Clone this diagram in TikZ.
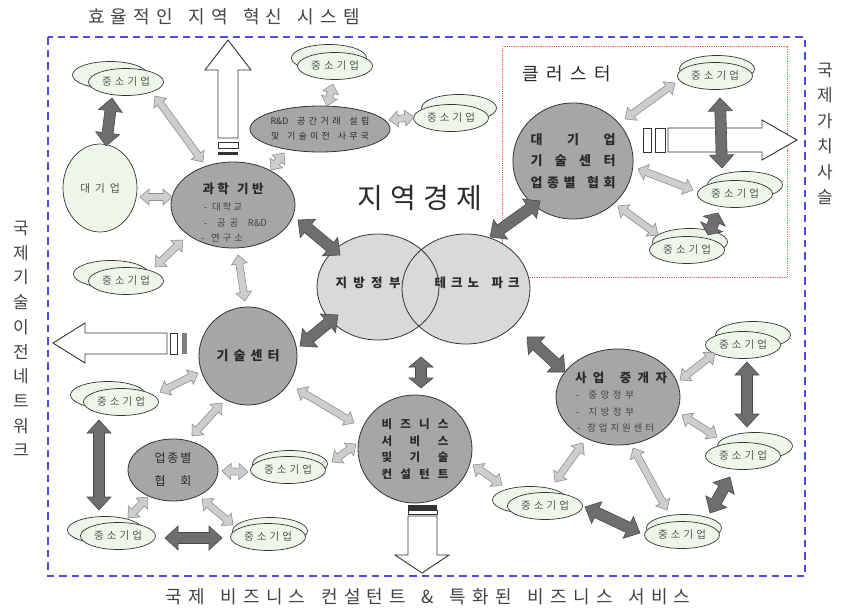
\documentclass[tikz,border=0pt]{standalone}
\usepackage{fontspec}
\setmainfont{Noto Sans CJK KR}
\usetikzlibrary{shapes.geometric,calc}

\definecolor{blueline}{HTML}{4B4BE6}
\definecolor{redline}{HTML}{F06060}
\definecolor{dkfill}{HTML}{A6A6A6}
\definecolor{vfill}{HTML}{D9D9D9}
\definecolor{smefill}{HTML}{EEF6EA}
\definecolor{darr}{HTML}{6E6E6E}
\definecolor{darredge}{HTML}{4A4A4A}
\definecolor{larr}{HTML}{CDCDCD}
\definecolor{larredge}{HTML}{8E8E8E}
\definecolor{txt}{HTML}{2A2A2A}
\definecolor{subtxt}{HTML}{444444}
\definecolor{smetxt}{HTML}{555555}
\definecolor{nodeedge}{HTML}{333333}
\definecolor{hedge}{HTML}{333333}

\makeatletter
\newcommand\spread[2]{\makebox[#1][s]{\spread@a#2\@nil}}
\def\spread@a#1{\ifx\@nil#1\unskip\else\ifx/#1\hskip0pt plus 1.5fil\relax\else#1\hfil\fi\expandafter\spread@a\fi}
\makeatother
\newcommand\RnD{R\&D}

\tikzset{
  asw/.store in=\asw, ahw/.store in=\ahw, ahl/.store in=\ahl,
  asw=3.5pt, ahw=8pt, ahl=9pt,
  dbl/.style={to path={
    (\tikztostart) coordinate (dA) (\tikztotarget) coordinate (dB)
    (dA) -- ($(dA)!\ahl!(dB)!\ahw!90:(dB)$) -- ($(dA)!\ahl!(dB)!\asw!90:(dB)$)
    -- ($(dB)!\ahl!(dA)!\asw!-90:(dA)$) -- ($(dB)!\ahl!(dA)!\ahw!-90:(dA)$)
    -- (dB) -- ($(dB)!\ahl!(dA)!\ahw!90:(dA)$) -- ($(dB)!\ahl!(dA)!\asw!90:(dA)$)
    -- ($(dA)!\ahl!(dB)!\asw!-90:(dB)$) -- ($(dA)!\ahl!(dB)!\ahw!-90:(dB)$) -- cycle}},
}

\newcommand\smepair[3]{%
  \node[smeb] (#1b) at ($(#2)+(#3)$) {};
  \node[sme] (#1) at (#2) {\spread{48pt}{중소기업}};}

\begin{document}
\begin{tikzpicture}[x=1pt,y=-1pt,
  every node/.style={inner sep=0pt, outer sep=0pt, text=txt},
  dn/.style={ellipse, draw=nodeedge, fill=dkfill, line width=0.8pt},
  vn/.style={ellipse, fill=vfill},
  sme/.style={ellipse, draw=nodeedge, fill=smefill, line width=0.7pt, minimum width=75pt, minimum height=27pt, font=\fontsize{10.5}{11}\selectfont, text=smetxt},
  smeb/.style={ellipse, draw=nodeedge, fill=smefill, line width=0.7pt, minimum width=75pt, minimum height=27pt},
  hollow/.style={draw=hedge, fill=white, line width=0.9pt, line join=miter},
  dk/.style={dbl, fill=darr, draw=darredge, line width=0.6pt, asw=5.5pt, ahw=12pt, ahl=13pt},
  lt/.style={dbl, fill=larr, draw=larredge, line width=0.6pt, asw=3.5pt, ahw=8pt, ahl=9pt},
  head/.style={font=\bfseries\fontsize{12.5}{13}\selectfont},
  item/.style={anchor=west, font=\fontsize{9.5}{10}\selectfont, text=subtxt},
]
\fill[white] (0,0) rectangle (841,613);
\useasboundingbox (0,0) rectangle (841,613);

% frames
\draw[redline, line width=0.8pt, densely dotted] (502,46) rectangle (787,277);
\draw[blueline, line width=2.2pt, dash pattern=on 7.5pt off 5pt] (48,37) rectangle (805,576);

% outer texts
\node[font=\fontsize{18}{18}\selectfont, text=subtxt] (title) at (224,17) {\spread{272pt}{효율적인/지역/혁신/시스템}};
\node[font=\fontsize{18}{18}\selectfont, text=subtxt] (bottom) at (428,597) {\spread{525pt}{국제/비즈니스/컨설턴트/\&/특화된/비즈니스/서비스}};
\node[align=center, font=\fontsize{17}{25.4}\selectfont, text=subtxt] (rtext) at (825,134) {국\\제\\가\\치\\사\\슬};
\node[align=center, font=\fontsize{17}{24.7}\selectfont, text=subtxt] (ltext) at (21,339) {국\\제\\기\\술\\이\\전\\네\\트\\워\\크};
\node[font=\fontsize{28}{28}\selectfont] (region) at (420,198) {\spread{125pt}{지역경제}};
\node[font=\fontsize{18}{18}\selectfont] (cluster) at (567,74) {\spread{89pt}{클러스터}};

% hollow arrows
\draw[hollow] (218,138) -- (218,70) -- (205,70) -- (228,40) -- (251,70) -- (238,70) -- (238,138) -- cycle;
\draw[hollow] (218,142) rectangle (238,148);
\fill[hedge] (218,152) rectangle (238,155);

\draw[hollow] (167,333) -- (85,333) -- (85,323) -- (53,343) -- (85,363) -- (85,354) -- (167,354) -- cycle;
\draw[hollow] (170,333) rectangle (177,354);
\fill[gray] (182,333) rectangle (187,354);

\draw[hollow] (668,128) -- (762,128) -- (762,120) -- (797,140) -- (762,160) -- (762,152) -- (668,152) -- cycle;
\draw[hollow] (643,128) rectangle (651,152);
\draw[hollow] (655,128) rectangle (665,152);

\fill[hedge] (408,505) rectangle (437,510);
\draw[hollow] (408,510) rectangle (437,514);
\draw[hollow] (408,516) -- (408,555) -- (395,555) -- (422,573) -- (449,555) -- (437,555) -- (437,516) -- cycle;

% Venn
\node[vn, minimum width=122pt, minimum height=106pt] (gov) at (378,287) {};
\node[vn, minimum width=128pt, minimum height=110pt] (park) at (466,289) {};
\draw[nodeedge, line width=0.8pt] (gov.center) ellipse [x radius=61, y radius=53];
\draw[nodeedge, line width=0.8pt] (park.center) ellipse [x radius=64, y radius=55];
\node[head] (govt) at (368,283) {\spread{65pt}{지방정부}};
\node[head] (parkt) at (477,283) {\spread{85pt}{테크노/파크}};

% main nodes
\node[dn, minimum width=124pt, minimum height=86pt] (sci) at (233,205) {};
\node[head] (scih) at (233,189) {\spread{61pt}{과학/기반}};
\node[item] (sci1) at (204,207) {\spread{38pt}{-/대학교}};
\node[item] (sci2) at (204,223) {\spread{63pt}{-/공공/\RnD}};
\node[item] (sci3) at (201,238) {\spread{42pt}{-/연구소}};

\node[ellipse, draw=nodeedge, fill=smefill, line width=0.7pt, minimum width=74pt, minimum height=88pt, font=\fontsize{11}{12}\selectfont, text=smetxt] (big) at (100,188) {\spread{40pt}{대기업}};

\node[dn, minimum size=98pt, font=\bfseries\fontsize{13}{14}\selectfont] (tech) at (248,356) {\spread{63pt}{기술센터}};

\node[dn, minimum width=90pt, minimum height=62pt, align=center, font=\fontsize{12}{23}\selectfont] (assoc) at (173,470) {\spread{37pt}{업종별}\\\spread{37pt}{협/회}};

\node[dn, minimum width=114pt, minimum height=108pt, align=center, font=\bfseries\fontsize{11.5}{16.7}\selectfont] (biz) at (415,449) {\spread{67pt}{비즈니스}\\\spread{67pt}{서비스}\\\spread{67pt}{및기술}\\\spread{67pt}{컨설턴트}};

\node[dn, minimum width=124pt, minimum height=96pt] (broker) at (618,397) {};
\node[head] (brokerh) at (621,378) {\spread{92pt}{사업/중개자}};
\node[item] (broker1) at (576,395) {\spread{58pt}{-/중앙정부}};
\node[item] (broker2) at (576,412) {\spread{58pt}{-/지방정부}};
\node[item] (broker3) at (577,428) {\spread{77pt}{-/창업지원센터}};

\node[dn, minimum size=116pt, align=center, font=\bfseries\fontsize{13}{21.5}\selectfont] (clus) at (573,161) {\spread{85pt}{대기업}\\\spread{85pt}{기술센터}\\\spread{85pt}{업종별/협회}};

\node[dn, minimum width=134pt, minimum height=46pt, align=center, font=\fontsize{9}{15}\selectfont] (rd) at (320,129) {\spread{99pt}{\RnD/공간거래/설립}\\\spread{98pt}{및/기술이전/사무국}};

% SMEs
\smepair{s1}{126,82}{-16,-7}
\smepair{s2}{335,66}{-6,-8}
\smepair{s3}{451,118}{8,-10}
\smepair{s4}{715,76}{2,-7}
\smepair{s5}{735,194}{10,-9}
\smepair{s6}{687,250}{3,-8}
\smepair{s7}{126,281}{-15,-7}
\smepair{s8}{121,402}{-13,-7}
\smepair{s9}{118,536}{-13,-6}
\smepair{s10}{288,470}{2,-6}
\smepair{s11}{268,537}{2,-6}
\smepair{s12}{545,506}{-15,-6}
\smepair{s13}{682,535}{2,-7}
\smepair{s14}{743,345}{10,-10}
\smepair{s15}{743,456}{12,-10}

% dark connectors
\draw[dk] ($(s1)+(-14,16)$) to ($(big)+(6,-42)$);
\draw[dk] ($(sci)+(65,15)$) to ($(gov)+(-38,-32)$);
\draw[dk] ($(tech)+(52,-10)$) to ($(gov)+(-40,28)$);
\draw[dk] ($(park)+(24,-52)$) to ($(clus)+(-33,40)$);
\draw[dk, ahl=10pt] ($(park)+(-45,68)$) to ($(biz)+(6,-61)$);
\draw[dk] ($(park)+(61,48)$) to ($(broker)+(-53,-25)$);
\draw[dk] ($(s4)+(5,22)$) to ($(s5)+(-13,-26)$);
\draw[dk, ahl=9pt] ($(s5)+(-17,19)$) to ($(s6)+(21,-15)$);
\draw[dk] ($(s14)+(4,17)$) to ($(s15)+(4,-29)$);
\draw[dk] ($(s15)+(-13,21)$) to ($(s13)+(28,-22)$);
\draw[dk] ($(s12)+(40,1)$) to ($(s13)+(-42,-2)$);
\draw[dk] ($(s8)+(-22,18)$) to ($(s9)+(-19,-26)$);
\draw[dk] ($(s9)+(47,2)$) to ($(s11)+(-46,1)$);

% light connectors
\draw[lt] ($(s1)+(29,14)$) to ($(sci)+(-30,-43)$);
\draw[lt] ($(big)+(40,9)$) to ($(sci)+(-61,-8)$);
\draw[lt] ($(s7)+(29,-14)$) to ($(sci)+(-50,35)$);
\draw[lt] ($(sci)+(5,50)$) to ($(tech)+(-3,-55)$);
\draw[lt] ($(rd)+(-36,24)$) to ($(sci)+(38,-35)$);
\draw[lt] ($(s2)+(-2,18)$) to ($(rd)+(7,-23)$);
\draw[lt] ($(rd)+(69,-9)$) to ($(s3)+(-37,-1)$);
\draw[lt] ($(clus)+(52,-42)$) to ($(s4)+(-40,7)$);
\draw[lt] ($(clus)+(65,8)$) to ($(s5)+(-42,-4)$);
\draw[lt] ($(clus)+(45,45)$) to ($(s6)+(-29,-15)$);
\draw[lt] ($(s8)+(39,-10)$) to ($(tech)+(-50,17)$);
\draw[lt] ($(assoc)+(19,-34)$) to ($(tech)+(-26,47)$);
\draw[lt] ($(tech)+(49,33)$) to ($(biz)+(-61,-26)$);
\draw[lt] ($(assoc)+(49,1)$) to ($(s10)+(-40,2)$);
\draw[lt] ($(s10)+(44,-8)$) to ($(biz)+(-59,-5)$);
\draw[lt] ($(s9)+(10,-18)$) to ($(assoc)+(-25,27)$);
\draw[lt] ($(assoc)+(29,29)$) to ($(s11)+(-35,-12)$);
\draw[lt] ($(biz)+(58,16)$) to ($(s12)+(-43,-21)$);
\draw[lt] ($(broker)+(62,-17)$) to ($(s14)+(-28,8)$);
\draw[lt] ($(broker)+(64,18)$) to ($(s15)+(-26,-19)$);
\draw[lt] ($(broker)+(-35,46)$) to ($(s12)+(10,-24)$);
\draw[lt] ($(broker)+(15,51)$) to ($(s13)+(-15,-25)$);
\end{tikzpicture}
\end{document}
